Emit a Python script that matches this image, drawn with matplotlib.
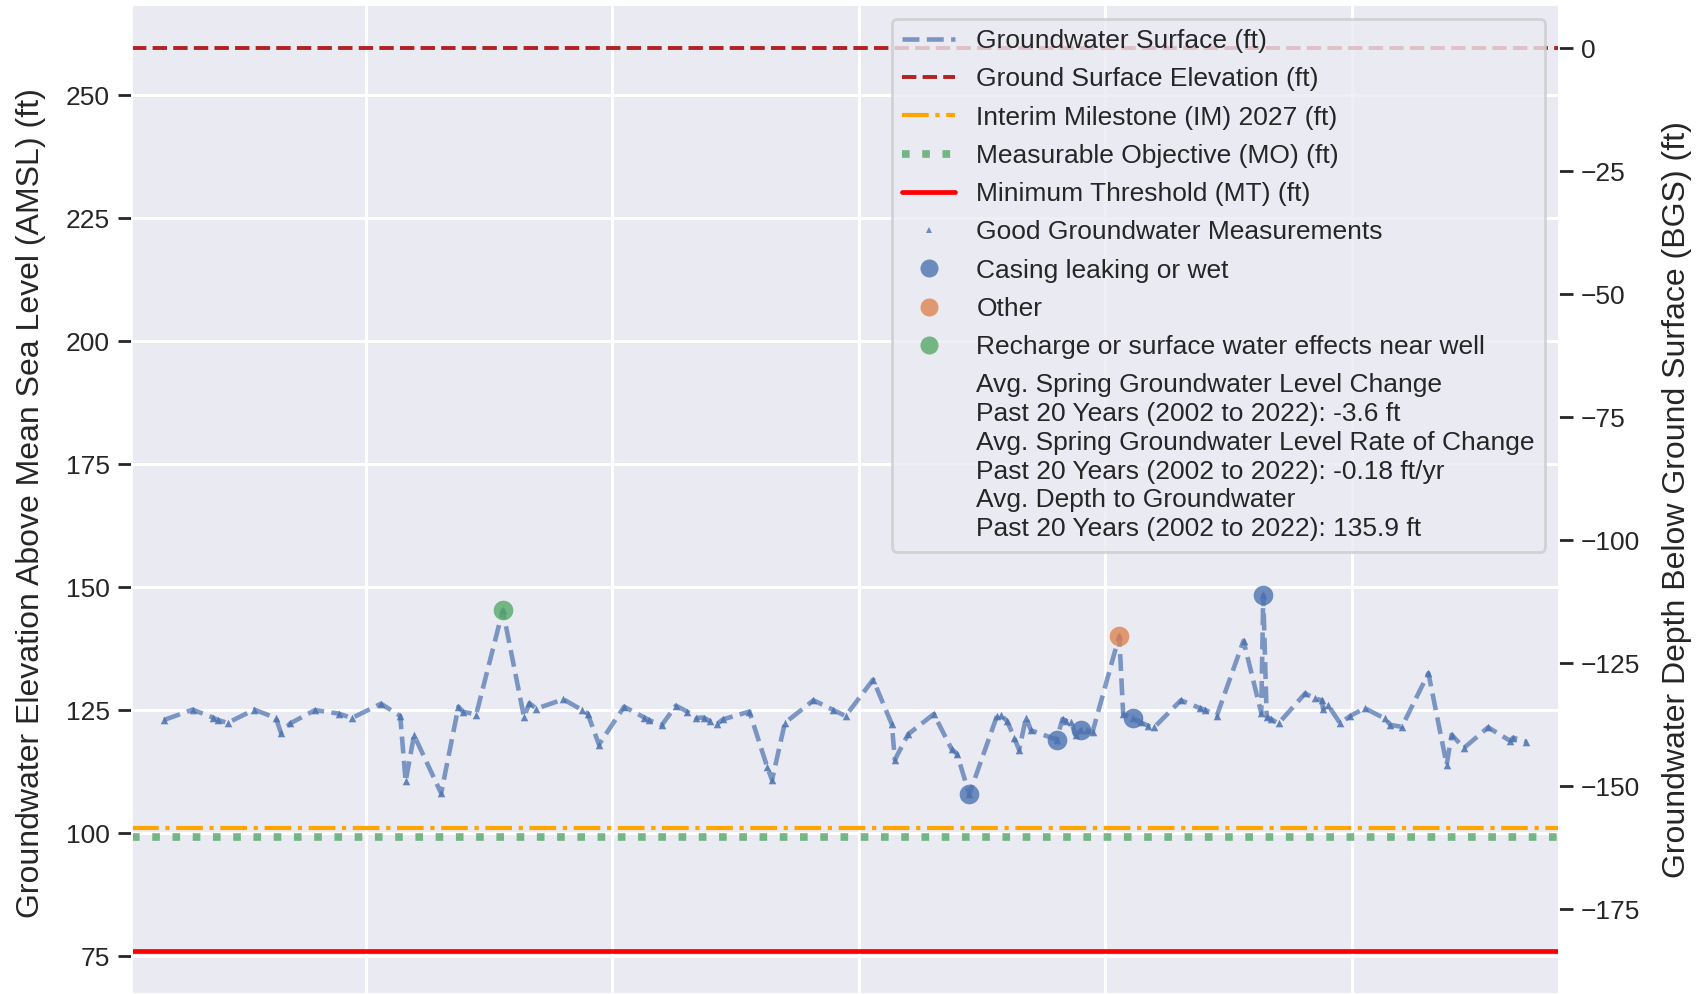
import numpy as np
import matplotlib
matplotlib.use('Agg')
import matplotlib.pyplot as plt
from matplotlib.lines import Line2D
import seaborn as sns

sns.set_theme(style='darkgrid')
plt.rcParams['font.family'] = ['Liberation Sans', 'DejaVu Sans']

# measurement dates (decimal years) and groundwater elevation (ft AMSL)
years = [1995.91, 1996.49, 1996.90, 1997.00, 1997.20, 1997.74, 1998.18, 1998.28, 1998.47, 1998.97,
         1999.45, 1999.72, 2000.31, 2000.70, 2000.81, 2000.98, 2001.53, 2001.88, 2001.97, 2002.24,
         2002.78, 2003.21, 2003.32, 2003.46, 2004.01, 2004.39, 2004.50, 2004.73, 2005.24, 2005.65,
         2005.74, 2006.00, 2006.29, 2006.52, 2006.70, 2006.85, 2006.99, 2007.13, 2007.24, 2007.78,
         2008.14, 2008.24, 2008.50, 2009.08, 2009.47, 2009.73, 2010.29, 2010.67, 2010.73, 2011.00,
         2011.52, 2011.88, 2011.99, 2012.24, 2012.80, 2012.88, 2013.01, 2013.15, 2013.25, 2013.39,
         2013.49, 2014.01, 2014.13, 2014.20, 2014.30, 2014.40, 2014.51, 2014.62, 2014.74, 2015.28,
         2015.36, 2015.55, 2015.72, 2015.87, 2015.99, 2016.53, 2016.92, 2017.01, 2017.26, 2017.80,
         2018.16, 2018.20, 2018.27, 2018.35, 2018.51, 2019.05, 2019.24, 2019.39, 2019.41, 2019.51,
         2019.76, 2019.96, 2020.26, 2020.66, 2020.78, 2021.01, 2021.55, 2021.92, 2022.02, 2022.27,
         2022.76, 2023.20, 2023.27, 2023.53]
elev = [123.0, 125.1, 123.5, 123.0, 122.4, 125.1, 123.4, 120.4, 122.3, 125.0,
        124.3, 123.4, 126.3, 123.8, 110.5, 119.9, 108.1, 125.7, 124.7, 124.1,
        145.3, 123.6, 126.4, 125.3, 127.2, 125.0, 124.3, 118.0, 125.7, 123.5,
        123.0, 121.9, 125.9, 124.7, 123.4, 123.5, 122.7, 122.2, 123.1, 124.7,
        113.5, 110.8, 122.4, 127.0, 125.1, 123.8, 131.2, 122.1, 114.9, 120.1,
        124.2, 117.1, 116.1, 107.9, 123.8, 124.0, 122.7, 119.4, 116.9, 123.5,
        120.9, 119.0, 123.2, 122.8, 122.5, 120.0, 121.0, 120.9, 120.6, 140.1,
        124.2, 123.4, 122.5, 121.8, 121.5, 127.0, 125.4, 125.1, 123.9, 139.1,
        124.4, 148.4, 123.7, 123.2, 122.3, 128.4, 127.4, 127.0, 125.3, 126.1,
        122.3, 123.8, 125.4, 123.3, 122.0, 121.6, 132.5, 113.9, 120.0, 117.3,
        121.5, 118.8, 119.4, 118.6]

# flagged measurements
casing_years = [2012.24, 2014.01, 2014.51, 2015.55, 2018.20]
casing_elev = [107.9, 119.0, 121.0, 123.4, 148.4]
other_years = [2015.28]
other_elev = [140.1]
recharge_years = [2002.78]
recharge_elev = [145.3]

# reference levels (ft AMSL)
gse = 259.5
im_2027 = 101.1
mo = 99.2
mt = 76.1

stats_text = ("Avg. Spring Groundwater Level Change\n"
              "Past 20 Years (2002 to 2022): -3.6 ft\n"
              "Avg. Spring Groundwater Level Rate of Change\n"
              "Past 20 Years (2002 to 2022): -0.18 ft/yr\n"
              "Avg. Depth to Groundwater\n"
              "Past 20 Years (2002 to 2022): 135.9 ft")

blue = '#4C72B0'
fs = 19
lab_fs = 23

fig = plt.figure(figsize=(16.96, 9.94), dpi=100)
ax = fig.add_axes([0.0778, 0.0, 0.8412, 0.9946])

ax.plot(years, elev, linestyle='--', color=blue, alpha=0.7, lw=3.3, zorder=3)
ax.axhline(gse, color='#B22222', linestyle='--', lw=2.8, zorder=2)
ax.axhline(im_2027, color='orange', linestyle='-.', lw=3.0, zorder=2)
ax.axhline(mo, color='#55A868', linestyle=':', lw=5.5, alpha=0.8, zorder=2)
ax.axhline(mt, color='red', linestyle='-', lw=3.4, zorder=2)

ax.scatter(years, elev, marker='^', s=30, color=blue, alpha=0.85, zorder=4, linewidths=0)
ax.scatter(casing_years, casing_elev, s=200, color=blue, alpha=0.8, zorder=5, linewidths=0)
ax.scatter(other_years, other_elev, s=200, color='#DD8452', alpha=0.8, zorder=5, linewidths=0)
ax.scatter(recharge_years, recharge_elev, s=200, color='#55A868', alpha=0.8, zorder=5, linewidths=0)

ax.set_xlim(1995.26, 2024.19)
ax.set_ylim(67.3, 268.25)
ax.set_xticks([2000, 2005, 2010, 2015, 2020])
ax.set_yticks([75, 100, 125, 150, 175, 200, 225, 250])
ax.tick_params(axis='y', left=True, length=10, width=2, color='#262626', labelsize=fs, pad=6)
ax.tick_params(axis='x', labelbottom=False)
ax.grid(True, color='white', lw=2.2)
ax.set_ylabel('Groundwater Elevation Above Mean Sea Level (AMSL) (ft)', fontsize=lab_fs)
ax.yaxis.set_label_coords(-0.060, 0.497)

ax2 = ax.twinx()
ax2.set_ylim(67.3 - gse, 268.25 - gse)
ax2.set_yticks([0, -25, -50, -75, -100, -125, -150, -175])
ax2.grid(False)
ax2.tick_params(axis='y', right=True, length=10, width=2, color='#262626', labelsize=fs, pad=6)
ax2.set_ylabel('Groundwater Depth Below Ground Surface (BGS) (ft)', fontsize=lab_fs)
ax2.yaxis.set_label_coords(1.0726, 0.5)

handles = [
    Line2D([], [], linestyle='--', color=blue, alpha=0.7, lw=3.3),
    Line2D([], [], linestyle='--', color='#B22222', lw=2.8),
    Line2D([], [], linestyle='-.', color='orange', lw=3.0),
    Line2D([], [], linestyle=':', color='#55A868', alpha=0.8, lw=5.5),
    Line2D([], [], linestyle='-', color='red', lw=3.4),
    Line2D([], [], linestyle='', marker='^', markersize=5, color=blue, alpha=0.8, markeredgewidth=0),
    Line2D([], [], linestyle='', marker='o', markersize=13, color=blue, alpha=0.8, markeredgewidth=0),
    Line2D([], [], linestyle='', marker='o', markersize=13, color='#DD8452', alpha=0.8, markeredgewidth=0),
    Line2D([], [], linestyle='', marker='o', markersize=13, color='#55A868', alpha=0.8, markeredgewidth=0),
    Line2D([], [], linestyle='', alpha=0),
]
labels = ['Groundwater Surface (ft)', 'Ground Surface Elevation (ft)',
          'Interim Milestone (IM) 2027 (ft)', 'Measurable Objective (MO) (ft)',
          'Minimum Threshold (MT) (ft)', 'Good Groundwater Measurements',
          'Casing leaking or wet', 'Other', 'Recharge or surface water effects near well',
          stats_text]
leg = ax2.legend(handles, labels, loc='upper right', fontsize=fs, framealpha=0.8,
                 facecolor='#EAEAF2', edgecolor='#CCCCCC', labelspacing=0.54,
                 handletextpad=0.8, borderpad=0.4)
leg.get_frame().set_linewidth(2)
for t in leg.get_texts():
    t.set_linespacing(1.25)

fig.savefig('out.png', dpi=100)
